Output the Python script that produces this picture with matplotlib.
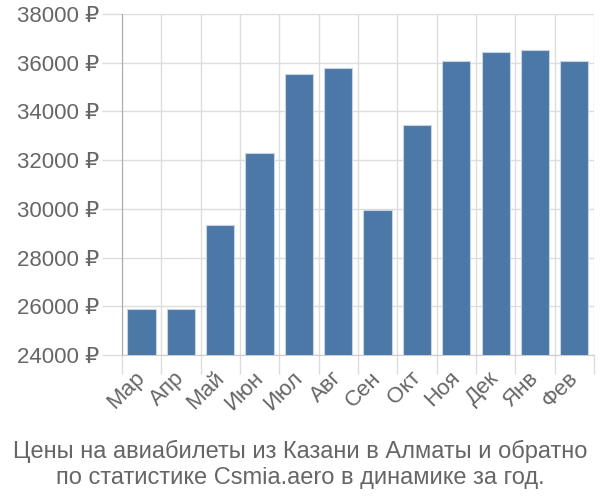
import numpy as np
import matplotlib
matplotlib.use("Agg")
import matplotlib.pyplot as plt
import matplotlib.transforms as mtransforms

plt.rcParams['font.family'] = ['Liberation Sans', 'DejaVu Sans']

months = ['Мар', 'Апр', 'Май', 'Июн', 'Июл', 'Авг', 'Сен', 'Окт', 'Ноя', 'Дек', 'Янв', 'Фев']
prices = [25900, 25900, 29320, 32300, 35520, 35780, 29950, 33450, 36060, 36430, 36520, 36080]
yticks = [24000, 26000, 28000, 30000, 32000, 34000, 36000, 38000]
title1 = 'Цены на авиабилеты из Казани в Алматы и обратно'
title2 = 'по статистике Csmia.aero в динамике за год.'

txt = '#666666'
grid = '#dddddd'

fig = plt.figure(figsize=(6, 5), dpi=100)
ax = fig.add_axes([0.2033, 0.29, 0.7867, 0.682])

x = np.arange(len(months))
ax.bar(x, prices, width=0.72, color='#4c78a8', edgecolor='#c8d4e4', linewidth=0.8, zorder=3)

ax.set_xlim(-0.5, len(months) - 0.5)
ax.set_ylim(yticks[0], yticks[-1])

ax.set_yticks(yticks)
ax.set_yticklabels([f'{v} ₽' for v in yticks])
ax.set_xticks(x)
ax.set_xticklabels(months, rotation=45, ha='right', va='top', rotation_mode='anchor')
ax.set_xticks(np.arange(-0.5, len(months)), minor=True)

ax.tick_params(axis='y', length=14.4, width=1, color=grid, labelsize=16, labelcolor=txt, pad=2)
ax.tick_params(axis='x', which='major', length=0, labelsize=16, labelcolor=txt, pad=9)
ax.tick_params(axis='x', which='minor', length=14, width=1, color=grid)
# first boundary tick continues the darker left axis line
ax.xaxis.get_minor_ticks()[0].tick1line.set_color('#aaaaaa')

shift = mtransforms.ScaledTranslation(-5 / 72, 0, fig.dpi_scale_trans)
for lab in ax.get_xticklabels():
    lab.set_transform(lab.get_transform() + shift)

ax.grid(True, axis='y', color=grid, linewidth=1, zorder=0)
ax.grid(True, axis='x', which='minor', color=grid, linewidth=1, zorder=0)

for s in ['top', 'right']:
    ax.spines[s].set_visible(False)
ax.spines['left'].set_color('#aaaaaa')
ax.spines['bottom'].set_color('#cccccc')

fig.text(0.5, 1 - 458 / 500, title1, ha='center', va='baseline', fontsize=17, color=txt)
fig.text(0.5, 1 - 484 / 500, title2, ha='center', va='baseline', fontsize=17, color=txt)

fig.savefig('out.png', dpi=100)
